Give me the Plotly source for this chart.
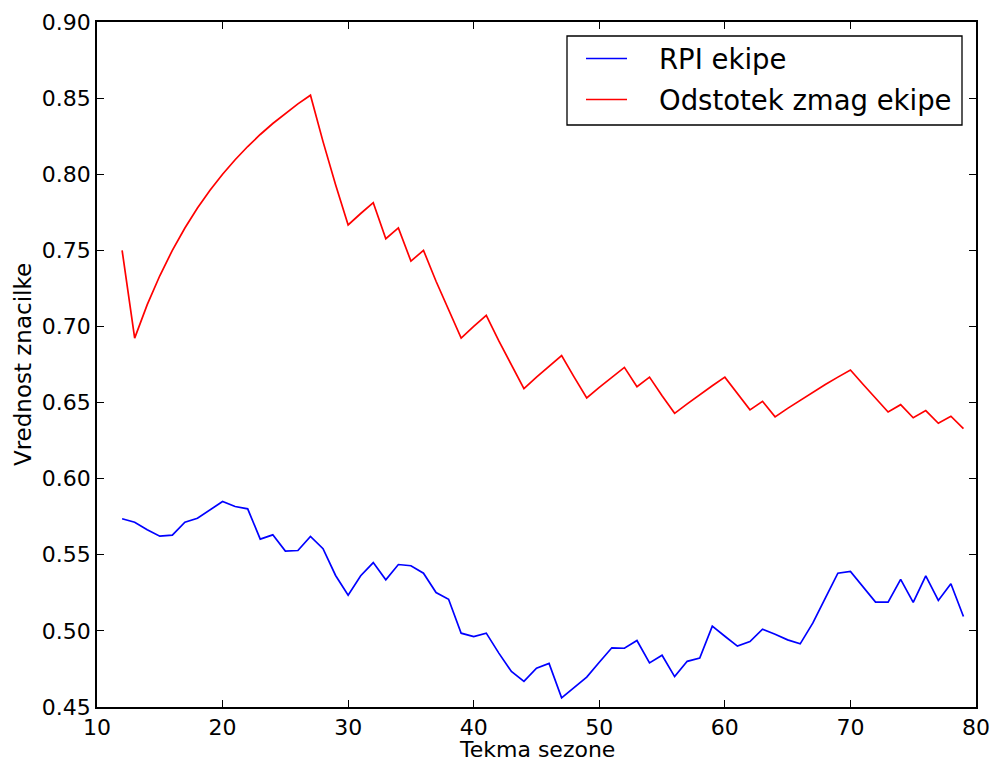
import plotly.graph_objects as go

# Game number within the season
games = list(range(12, 80))

# Team RPI after each game
rpi = [
    0.5737, 0.5714, 0.5664, 0.5622, 0.5629, 0.5714, 0.5740, 0.5798, 0.5850, 0.5817,
    0.5802, 0.5603, 0.5631, 0.5524, 0.5528, 0.5620, 0.5540, 0.5364, 0.5235, 0.5362,
    0.5449, 0.5336, 0.5436, 0.5428, 0.5379, 0.5252, 0.5208, 0.4985, 0.4963, 0.4985,
    0.4854, 0.4733, 0.4668, 0.4755, 0.4786, 0.4560, 0.4628, 0.4696, 0.4794, 0.4889,
    0.4886, 0.4937, 0.4790, 0.4840, 0.4700, 0.4800, 0.4821, 0.5031, 0.4965, 0.4900,
    0.4930, 0.5011, 0.4978, 0.4941, 0.4915, 0.5051, 0.5215, 0.5379, 0.5390, 0.5290,
    0.5189, 0.5189, 0.5338, 0.5187, 0.5362, 0.5200, 0.5310, 0.5095,
]

# Team winning percentage after each game
win_pct = [
    0.7500, 0.6923, 0.7143, 0.7333, 0.7500, 0.7647, 0.7778, 0.7895, 0.8000, 0.8095,
    0.8182, 0.8261, 0.8333, 0.8400, 0.8462, 0.8519, 0.8214, 0.7931, 0.7667, 0.7742,
    0.7813, 0.7576, 0.7647, 0.7429, 0.7500, 0.7297, 0.7105, 0.6923, 0.7000, 0.7073,
    0.6905, 0.6744, 0.6591, 0.6667, 0.6739, 0.6809, 0.6667, 0.6531, 0.6600, 0.6667,
    0.6731, 0.6604, 0.6667, 0.6545, 0.6429, 0.6491, 0.6552, 0.6610, 0.6667, 0.6557,
    0.6452, 0.6508, 0.6406, 0.6462, 0.6515, 0.6567, 0.6618, 0.6667, 0.6714, 0.6620,
    0.6528, 0.6438, 0.6486, 0.6400, 0.6447, 0.6364, 0.6410, 0.6329,
]

series_names = ["RPI ekipe", "Odstotek zmag ekipe"]
series_colors = ["#0000ff", "#ff0000"]

x_title = "Tekma sezone"
y_title = "Vrednost znacilke"

x_ticks = [10, 20, 30, 40, 50, 60, 70, 80]
y_ticks = [0.45, 0.50, 0.55, 0.60, 0.65, 0.70, 0.75, 0.80, 0.85, 0.90]

FONT = "DejaVu Sans"
W, H = 992, 762
ML, MR, MT, MB = 97, 16, 22, 55
PW, PH = W - ML - MR, H - MT - MB


def px_x(px):
    """Pixel column -> paper x."""
    return (px - ML) / PW


def px_y(py):
    """Pixel row -> paper y."""
    return 1 - (py - MT) / PH


fig = go.Figure()
for name, color, values in zip(series_names, series_colors, [rpi, win_pct]):
    fig.add_trace(go.Scatter(x=games, y=values, mode="lines", name=name,
                             line=dict(color=color, width=1.7), showlegend=False))

axis_common = dict(
    showgrid=False, zeroline=False, automargin=False,
    showline=True, linecolor="black", linewidth=1.5, mirror="ticks",
    ticks="inside", ticklen=7, tickwidth=1, tickcolor="black",
    tickfont=dict(family=FONT, size=22, color="black"),
)

# Legend box drawn in paper space, upper right of the axes
shapes = [dict(type="rect", xref="paper", yref="paper",
               x0=px_x(567), x1=px_x(962), y0=px_y(125), y1=px_y(36),
               line=dict(color="black", width=1.3), fillcolor="white", layer="above")]
annotations = []
for i, (name, color) in enumerate(zip(series_names, series_colors)):
    row_y = 58.5 + i * 41
    shapes.append(dict(type="line", xref="paper", yref="paper",
                       x0=px_x(586), x1=px_x(627), y0=px_y(row_y), y1=px_y(row_y),
                       line=dict(color=color, width=1.7), layer="above"))
    annotations.append(dict(xref="paper", yref="paper", x=px_x(657), y=px_y(row_y),
                            xanchor="left", yanchor="middle", showarrow=False,
                            text=name, font=dict(family=FONT, size=27.5, color="black")))

# x-axis title below the tick labels
annotations.append(dict(xref="paper", yref="paper", x=0.5, y=px_y(749.5),
                        xanchor="center", yanchor="middle", showarrow=False,
                        borderpad=0,
                        text=x_title, font=dict(family=FONT, size=22, color="black")))

fig.update_layout(
    width=W, height=H,
    margin=dict(l=ML, r=MR, t=MT, b=MB),
    paper_bgcolor="white", plot_bgcolor="white",
    font=dict(family=FONT, color="black"),
    xaxis=dict(range=[10, 80], tickvals=x_ticks, ticktext=[str(v) for v in x_ticks],
               **axis_common),
    yaxis=dict(range=[0.45, 0.90], tickvals=y_ticks, ticktext=[f"{v:.2f}" for v in y_ticks],
               title=dict(text=y_title, font=dict(family=FONT, size=23), standoff=4),
               **axis_common),
    showlegend=False,
    shapes=shapes,
    annotations=annotations,
)

fig.write_html("out.html")
